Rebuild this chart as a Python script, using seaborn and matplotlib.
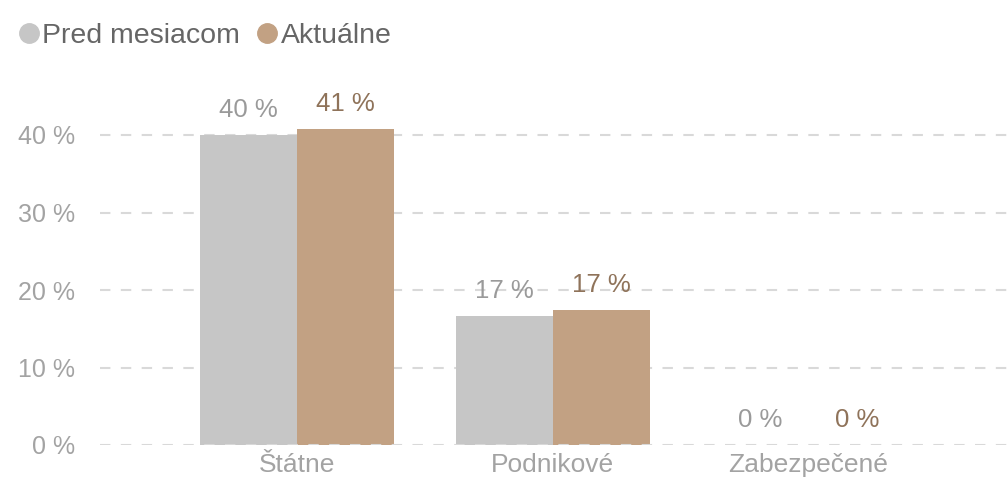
import matplotlib
matplotlib.use("Agg")
import matplotlib.pyplot as plt
from matplotlib.lines import Line2D
import seaborn as sns
import pandas as pd

categories = ["Štátne", "Podnikové", "Zabezpečené"]
series_names = ["Pred mesiacom", "Aktuálne"]
pred_mesiacom = [40.0, 16.6, 0.0]
aktualne = [40.8, 17.4, 0.0]
y_ticks = [0, 10, 20, 30, 40]

bar_colors = ["#c6c6c6", "#c2a183"]
label_colors = ["#9a9a9a", "#8f735a"]

df = pd.DataFrame({
    "kategoria": categories * 2,
    "seria": [series_names[0]] * 3 + [series_names[1]] * 3,
    "hodnota": pred_mesiacom + aktualne,
})

sns.set_theme(style="white")
plt.rcParams["font.family"] = ["Liberation Sans", "DejaVu Sans"]

fig = plt.figure(figsize=(10.08, 4.84), dpi=100)
ax = fig.add_axes([100 / 1008, 39 / 484, 908 / 1008, (445 - 88.5) / 484])

sns.barplot(data=df, x="kategoria", y="hodnota", hue="seria",
            order=categories, hue_order=series_names,
            palette=bar_colors, width=0.76, saturation=1,
            linewidth=0, ax=ax, legend=False, zorder=2)

ax.set_ylim(0, 46)
ax.set_xlim(-0.77, 2.78)
ax.set_yticks(y_ticks)
ax.set_yticklabels([f"{t} %" for t in y_ticks])
ax.set_xlabel("")
ax.set_ylabel("")

grid_kw = dict(color="#d9d9d9", linewidth=1.5, linestyle=(0, (5, 5)))
for t in y_ticks:
    ax.axhline(t, zorder=3 if t == 0 else 1, **grid_kw)

for s in ax.spines.values():
    s.set_visible(False)
ax.tick_params(axis="y", length=0, pad=18, labelsize=18, labelcolor="#a3a3a3")
ax.tick_params(axis="x", length=0, pad=6, labelsize=19, labelcolor="#a3a3a3")

# value labels above each bar
for container, col in zip(ax.containers, label_colors):
    for bar, v in zip(container, container.datavalues):
        ax.annotate(f"{v:.0f} %",
                    (bar.get_x() + bar.get_width() / 2, bar.get_height()),
                    xytext=(0, 13), textcoords="offset points",
                    ha="center", va="baseline", fontsize=18.5, color=col,
                    zorder=4)

handles = [Line2D([], [], marker="o", linestyle="none", markersize=14,
                  markerfacecolor=c, markeredgecolor=c) for c in bar_colors]
fig.legend(handles, series_names, loc="upper left",
           bbox_to_anchor=(-0.001, 0.993), ncol=2, frameon=False,
           fontsize=20.5, handlelength=0.7, handletextpad=0.12,
           columnspacing=0.6, labelcolor="#666666", borderaxespad=0.3)

fig.savefig("out.png", dpi=100)
